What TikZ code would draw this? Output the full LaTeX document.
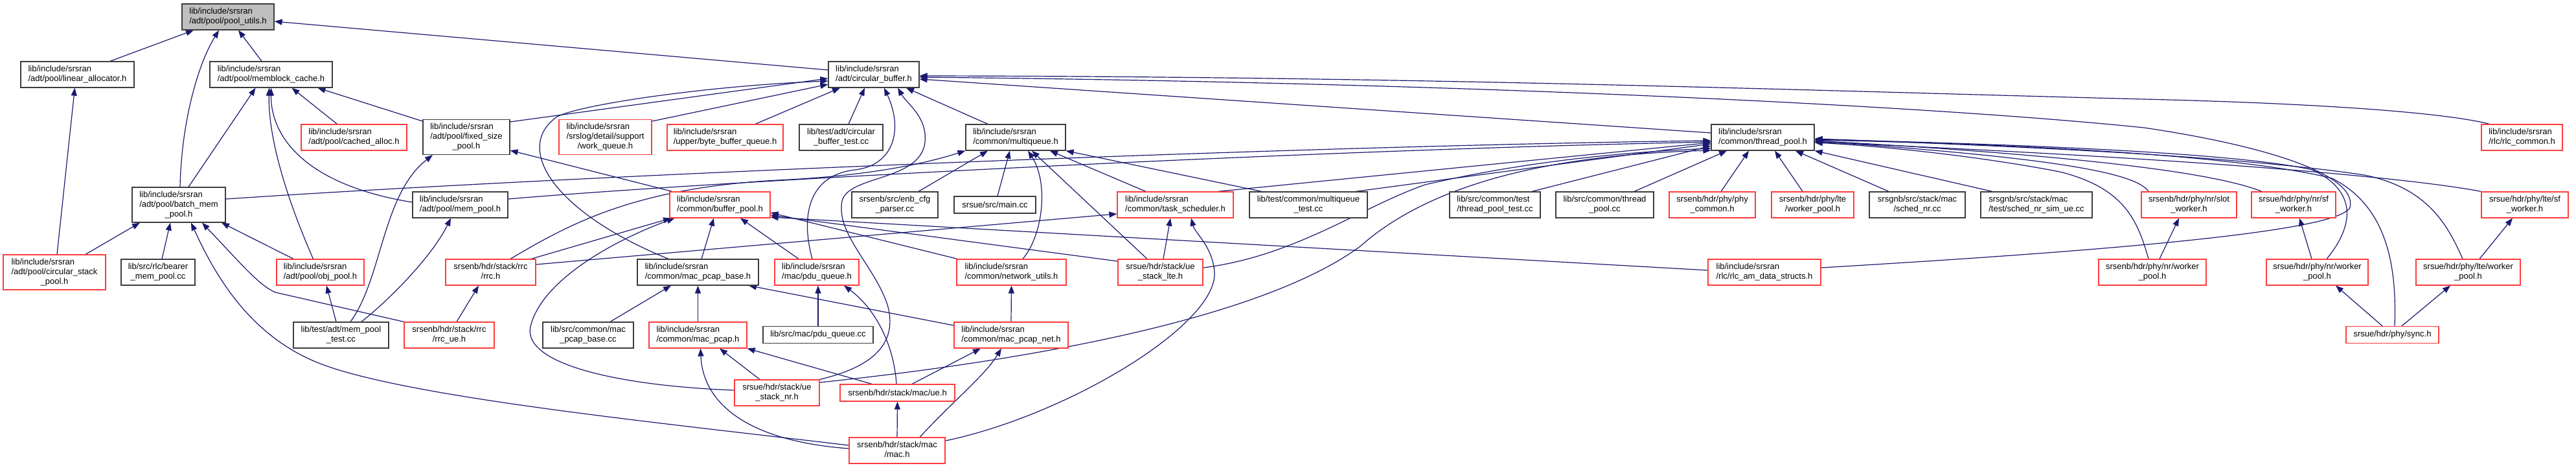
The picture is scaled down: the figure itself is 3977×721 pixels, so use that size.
\documentclass[tikz,border=0pt]{standalone}
\usepackage{fontspec}
\setmainfont{Liberation Sans}
\usetikzlibrary{arrows.meta}
\pgfdeclarelayer{back}
\pgfdeclarelayer{bg}
\pgfsetlayers{back,bg,main}
\definecolor{edgec}{RGB}{25,25,112}
\definecolor{redc}{RGB}{255,60,60}
\definecolor{blkc}{RGB}{60,60,60}
\definecolor{grayfill}{RGB}{191,191,191}
\newcommand\lbltwo[2]{\begin{tabular}{@{}l@{}}#1\\\multicolumn{1}{@{}c@{}}{#2}\end{tabular}}
\newcommand\lblthree[3]{\begin{tabular}{@{}l@{}}#1\\#2\\\multicolumn{1}{@{}c@{}}{#3}\end{tabular}}
\begin{document}
\begin{tikzpicture}[x=1pt,y=-1pt,
  box/.style={draw=blkc, line width=1.2pt, fill=white, rectangle, inner sep=0pt, font=\fontsize{13}{15}\selectfont},
  rbox/.style={box, draw=redc},
  hone/.style={minimum height=26pt},
  htwo/.style={minimum height=40pt},
  hthree/.style={minimum height=54pt},
  edge/.style={draw=edgec, line width=1.2pt, -{Triangle[length=12pt,width=9pt]}}]
\begin{pgfonlayer}{back}
\fill[white] (0,0) rectangle (3977,721);
\end{pgfonlayer}
\useasboundingbox (0,0) rectangle (3977,721);
% row 0
\node[box,fill=grayfill,htwo,minimum width=142pt] (A) at (352,26) {\lbltwo{lib/include/srsran}{/adt/pool/pool\_utils.h}};
% row 1
\node[box,htwo,minimum width=175pt] (B) at (119.5,115) {\lbltwo{lib/include/srsran}{/adt/pool/linear\_allocator.h}};
\node[box,htwo,minimum width=189pt] (C) at (418.5,115) {\lbltwo{lib/include/srsran}{/adt/pool/memblock\_cache.h}};
\node[box,htwo,minimum width=140pt] (D) at (1349,115) {\lbltwo{lib/include/srsran}{/adt/circular\_buffer.h}};
% row 2
\node[rbox,htwo,minimum width=163pt] (E) at (546.5,212) {\lbltwo{lib/include/srsran}{/adt/pool/cached\_alloc.h}};
\node[box,hthree,minimum width=134pt] (F) at (720,211.5) {\lblthree{lib/include/srsran}{/adt/pool/fixed\_size}{\_pool.h}};
\node[rbox,hthree,minimum width=143pt] (G) at (934.5,211.5) {\lblthree{lib/include/srsran}{/srslog/detail/support}{/work\_queue.h}};
\node[rbox,htwo,minimum width=179pt] (H) at (1119.5,212) {\lbltwo{lib/include/srsran}{/upper/byte\_buffer\_queue.h}};
\node[box,htwo,minimum width=129pt] (I) at (1298.5,212) {\lbltwo{lib/test/adt/circular}{\_buffer\_test.cc}};
\node[box,htwo,minimum width=154pt] (J) at (1568,212) {\lbltwo{lib/include/srsran}{/common/multiqueue.h}};
\node[box,htwo,minimum width=159pt] (K) at (2721.5,212) {\lbltwo{lib/include/srsran}{/common/thread\_pool.h}};
\node[rbox,htwo,minimum width=125pt] (L) at (3893.5,212) {\lbltwo{lib/include/srsran}{/rlc/rlc\_common.h}};
% row 3
\node[box,hthree,minimum width=144pt] (M) at (276,316) {\lblthree{lib/include/srsran}{/adt/pool/batch\_mem}{\_pool.h}};
\node[box,htwo,minimum width=147pt] (N) at (710.5,316) {\lbltwo{lib/include/srsran}{/adt/pool/mem\_pool.h}};
\node[rbox,htwo,minimum width=155pt] (O) at (1111.5,316) {\lbltwo{lib/include/srsran}{/common/buffer\_pool.h}};
\node[box,htwo,minimum width=133pt] (P) at (1381.5,316) {\lbltwo{srsenb/src/enb\_cfg}{\_parser.cc}};
\node[box,hone,minimum width=126pt] (Q) at (1536,316) {srsue/src/main.cc};
\node[rbox,htwo,minimum width=179pt] (R) at (1814.5,316) {\lbltwo{lib/include/srsran}{/common/task\_scheduler.h}};
\node[box,htwo,minimum width=182pt] (S) at (2020,316) {\lbltwo{lib/test/common/multiqueue}{\_test.cc}};
\node[box,htwo,minimum width=140pt] (T) at (2308,316) {\lbltwo{lib/src/common/test}{/thread\_pool\_test.cc}};
\node[box,htwo,minimum width=151pt] (U) at (2477.5,316) {\lbltwo{lib/src/common/thread}{\_pool.cc}};
\node[rbox,htwo,minimum width=133pt] (V) at (2643.5,316) {\lbltwo{srsenb/hdr/phy/phy}{\_common.h}};
\node[rbox,htwo,minimum width=127pt] (W) at (2798.5,316) {\lbltwo{srsenb/hdr/phy/lte}{/worker\_pool.h}};
\node[box,htwo,minimum width=148pt] (X) at (2960,316) {\lbltwo{srsgnb/src/stack/mac}{/sched\_nr.cc}};
\node[box,htwo,minimum width=172pt] (Y) at (3144,316) {\lbltwo{srsgnb/src/stack/mac}{/test/sched\_nr\_sim\_ue.cc}};
\node[rbox,htwo,minimum width=147pt] (Z) at (3379.5,316) {\lbltwo{srsenb/hdr/phy/nr/slot}{\_worker.h}};
\node[rbox,htwo,minimum width=130pt] (AA) at (3541,316) {\lbltwo{srsue/hdr/phy/nr/sf}{\_worker.h}};
\node[rbox,htwo,minimum width=134pt] (AB) at (3898,316) {\lbltwo{srsue/hdr/phy/lte/sf}{\_worker.h}};
% row 4
\node[rbox,hthree,minimum width=158pt] (AC) at (84,420) {\lblthree{lib/include/srsran}{/adt/pool/circular\_stack}{\_pool.h}};
\node[box,htwo,minimum width=114pt] (AD) at (244,420) {\lbltwo{lib/src/rlc/bearer}{\_mem\_pool.cc}};
\node[rbox,htwo,minimum width=135pt] (AE) at (494.5,420) {\lbltwo{lib/include/srsran}{/adt/pool/obj\_pool.h}};
\node[rbox,htwo,minimum width=139pt] (AF) at (757.5,420) {\lbltwo{srsenb/hdr/stack/rrc}{/rrc.h}};
\node[box,htwo,minimum width=187pt] (AG) at (1077.5,420) {\lbltwo{lib/include/srsran}{/common/mac\_pcap\_base.h}};
\node[rbox,htwo,minimum width=130pt] (AH) at (1261,420) {\lbltwo{lib/include/srsran}{/mac/pdu\_queue.h}};
\node[rbox,htwo,minimum width=169pt] (AI) at (1561.5,420) {\lbltwo{lib/include/srsran}{/common/network\_utils.h}};
\node[rbox,htwo,minimum width=131pt] (AJ) at (1791.5,420) {\lbltwo{srsue/hdr/stack/ue}{\_stack\_lte.h}};
\node[rbox,htwo,minimum width=174pt] (AK) at (2724,420) {\lbltwo{lib/include/srsran}{/rlc/rlc\_am\_data\_structs.h}};
\node[rbox,htwo,minimum width=166pt] (AL) at (3323,420) {\lbltwo{srsenb/hdr/phy/nr/worker}{\_pool.h}};
\node[rbox,htwo,minimum width=157pt] (AM) at (3577.5,420) {\lbltwo{srsue/hdr/phy/nr/worker}{\_pool.h}};
\node[rbox,htwo,minimum width=161pt] (AN) at (3810.5,420) {\lbltwo{srsue/hdr/phy/lte/worker}{\_pool.h}};
% row 5
\node[box,htwo,minimum width=147pt] (AO) at (526.5,517) {\lbltwo{lib/test/adt/mem\_pool}{\_test.cc}};
\node[rbox,htwo,minimum width=139pt] (AP) at (693.5,517) {\lbltwo{srsenb/hdr/stack/rrc}{/rrc\_ue.h}};
\node[box,htwo,minimum width=140pt] (AQ) at (908,517) {\lbltwo{lib/src/common/mac}{\_pcap\_base.cc}};
\node[rbox,htwo,minimum width=151pt] (AR) at (1077.5,517) {\lbltwo{lib/include/srsran}{/common/mac\_pcap.h}};
\node[box,hone,minimum width=170pt] (AS) at (1263,516.5) {lib/src/mac/pdu\_queue.cc};
\node[rbox,htwo,minimum width=176pt] (AT) at (1561,517) {\lbltwo{lib/include/srsran}{/common/mac\_pcap\_net.h}};
\node[rbox,hone,minimum width=143pt] (AU) at (3693.5,516.5) {srsue/hdr/phy/sync.h};
% row 6-7
\node[rbox,htwo,minimum width=131pt] (AV) at (1199.5,606) {\lbltwo{srsue/hdr/stack/ue}{\_stack\_nr.h}};
\node[rbox,hone,minimum width=177pt] (AW) at (1385.5,606) {srsenb/hdr/stack/mac/ue.h};
\node[rbox,htwo,minimum width=148pt] (AX) at (1385,695) {\lbltwo{srsenb/hdr/stack/mac}{/mac.h}};

\begin{pgfonlayer}{bg}
% into pool_utils
\draw[edge] ([xshift=50.5pt]B.north) -- ([xshift=-53pt]A.south);
\draw[edge] ([xshift=2pt]M.north) .. controls (280,190) and (305,100) .. ([xshift=-14pt]A.south);
\draw[edge] ([xshift=-14.5pt]C.north) -- ([xshift=16pt]A.south);
\draw[edge] ([yshift=7pt]D.west) -- ([yshift=-7pt]A.east);
% linear_allocator, memblock_cache
\draw[edge] ([xshift=4pt]AC.north) -- ([xshift=-4pt]B.south);
\draw[edge] ([xshift=15pt]M.north) -- ([xshift=-24pt]C.south);
\draw[edge] ([xshift=-26pt]E.north) -- ([xshift=32pt]C.south);
\draw[edge] ([yshift=24.5pt]F.west) -- ([xshift=72pt]C.south);
\draw[edge] ([yshift=4pt]N.west) .. controls (470,285) and (418,210) .. (C.south);
\draw[edge] ([xshift=-11pt]AE.north) .. controls (440,300) and (414,210) .. ([xshift=-3pt]C.south);
% batch_mem_pool
\draw[edge] ([xshift=48pt]AC.north) -- ([xshift=-60pt]M.south);
\draw[edge] ([xshift=6pt]AD.north) -- ([xshift=-13pt]M.south);
\draw[edge] ([yshift=8pt]AX.west) .. controls (1000,650) and (600,610) .. (480,555) .. controls (380,510) and (330,420) .. ([xshift=19pt]M.south);
\draw[edge] (AP.north west) -- (425,451) .. controls (400,440) and (375,410) .. ([xshift=36pt]M.south);
\draw[edge] ([xshift=-41.5pt]AE.north) -- ([xshift=66pt]M.south);
% mem_pool_test
\draw[edge] ([xshift=-7.5pt]AO.north) -- ([xshift=9.5pt]AE.south);
\draw[edge] ([xshift=14.5pt]AO.north) .. controls (590,430) and (590,300) .. ([xshift=-52pt]F.south);
\draw[edge] ([xshift=31.5pt]AO.north) .. controls (610,455) and (670,390) .. ([xshift=-14.5pt]N.south);
% fixed_size_pool, circular_buffer
\draw[edge] ([xshift=-73.5pt]O.north) -- ([yshift=-20.5pt]F.east);
\draw[edge] ([yshift=23.5pt]F.east) -- ([yshift=-6pt]D.west);
\draw[edge] ([yshift=24.5pt]G.east) -- ([yshift=-15pt]D.west);
\draw[edge] ([xshift=-45.5pt]AG.north) .. controls (860,330) and (790,230) .. (860,180) .. controls (900,160) and (1100,132) .. ([yshift=-10pt]D.west);
\draw[edge] ([xshift=46.5pt]H.north) -- ([xshift=-52pt]D.south);
\draw[edge] ([xshift=11.5pt]I.north) -- ([xshift=-14pt]D.south);
\draw[edge] ([xshift=-43pt]J.north) -- ([xshift=50pt]D.south);
\draw[edge] ([yshift=7pt]K.west) -- ([yshift=-7pt]D.east);
\draw[edge] ([xshift=-50pt]L.north) .. controls (3780,175) and (3600,160) .. (3310,153) .. controls (2800,140) and (2200,118) .. ([yshift=-2pt]D.east);
\draw[edge] ([yshift=7pt]AK.east) .. controls (3200,390) and (3610,360) .. (3628,320) .. controls (3640,270) and (3500,225) .. (3310,197) .. controls (3000,165) and (2300,128) .. ([yshift=-4pt]D.east);
\draw[edge] (AV.north east) .. controls (1330,570) and (1390,540) .. (1370,470) .. controls (1350,410) and (1290,360) .. (1300,310) .. controls (1310,270) and (1420,280) .. (1428,220) .. controls (1432,180) and (1400,160) .. ([xshift=37pt]D.south);
\draw[edge] ([xshift=-7pt]AH.north) .. controls (1235,330) and (1250,270) .. (1320,262) .. controls (1380,255) and (1395,200) .. ([xshift=16pt]D.south);
% thread_pool from left
\draw[edge] ([yshift=9pt]M.east) .. controls (900,270) and (2000,225) .. ([yshift=-5pt]K.west);
\draw[edge] ([yshift=9pt]N.east) .. controls (1100,280) and (2000,232) .. ([yshift=-7pt]K.west);
\draw[edge] ([xshift=65.5pt]R.north) -- ([yshift=-8pt]K.west);
\draw[edge] ([xshift=73pt]S.north) -- ([yshift=-10pt]K.west);
\draw[edge] ([yshift=7pt]AJ.east) .. controls (2000,395) and (2100,320) .. (2200,285) .. controls (2350,250) and (2500,235) .. ([yshift=-17pt]K.west);
\draw[edge] ([yshift=16pt]AV.east) .. controls (1600,555) and (1950,490) .. (2100,380) .. controls (2190,300) and (2350,240) .. ([yshift=-20pt]K.west);
\draw[edge] ([xshift=57pt]T.north) -- ([yshift=-13pt]K.west);
% thread_pool from below
\draw[edge] ([xshift=45.5pt]U.north) -- ([xshift=-55.5pt]K.south);
\draw[edge] ([xshift=13.5pt]V.north) -- ([xshift=-21.5pt]K.south);
\draw[edge] ([xshift=-15.5pt]W.north) -- ([xshift=18.5pt]K.south);
\draw[edge] ([xshift=-44pt]X.north) -- ([xshift=50.5pt]K.south);
\draw[edge] ([xshift=-68pt]Y.north) -- (K.south east);
% thread_pool from right
\draw[edge] ([xshift=-62.5pt]Z.north) .. controls (3300,270) and (3200,245) .. ([yshift=-6pt]K.east);
\draw[edge] ([xshift=-49pt]AA.north) .. controls (3440,275) and (3300,245) .. ([yshift=-5pt]K.east);
\draw[edge] (AB.north west) .. controls (3750,280) and (3500,250) .. ([yshift=-7pt]K.east);
\draw[edge] ([xshift=-6pt]AL.north) .. controls (3300,340) and (3280,290) .. (3180,265) .. controls (3050,240) and (2900,225) .. ([yshift=-8pt]K.east);
\draw[edge] ([xshift=14.5pt]AM.north) .. controls (3625,360) and (3650,300) .. (3570,262) .. controls (3450,235) and (3100,222) .. ([yshift=-3pt]K.east);
\draw[edge] ([xshift=3.5pt]AU.north) .. controls (3700,420) and (3690,320) .. (3600,275) .. controls (3450,238) and (3100,222) .. ([yshift=-4pt]K.east);
\draw[edge] ([xshift=-8.5pt]AN.north) .. controls (3780,350) and (3750,290) .. (3650,270) .. controls (3450,240) and (3100,225) .. ([yshift=-2pt]K.east);
% phy workers
\draw[edge] ([xshift=11pt]AL.north) -- ([xshift=-15.5pt]Z.south);
\draw[edge] ([xshift=-8.5pt]AM.north) -- ([xshift=9pt]AA.south);
\draw[edge] ([xshift=17.5pt]AN.north) -- ([xshift=-19pt]AB.south);
\draw[edge] ([xshift=-15.5pt]AU.north) -- ([xshift=28.5pt]AM.south);
\draw[edge] ([xshift=14.5pt]AU.north) -- ([xshift=-27.5pt]AN.south);
% multiqueue
\draw[edge] ([xshift=36.5pt]P.north) -- ([xshift=-43pt]J.south);
\draw[edge] ([xshift=4pt]Q.north) -- ([xshift=-9pt]J.south);
\draw[edge] ([xshift=17.5pt]AI.north) .. controls (1612,360) and (1618,280) .. ([xshift=19pt]J.south);
\draw[edge] ([xshift=-20.5pt]AJ.north) -- ([xshift=25pt]J.south);
\draw[edge] ([xshift=-45.5pt]R.north) -- ([xshift=53pt]J.south);
\draw[edge] ([xshift=-72pt]S.north) -- (J.south east);
\draw[edge] ([xshift=30.5pt]AF.north) .. controls (880,345) and (980,290) .. (1200,278) .. controls (1330,272) and (1420,255) .. (J.south west);
% buffer_pool
\draw[edge] ([xshift=62.5pt]AF.north) -- ([xshift=-75.5pt]O.south);
\draw[edge] ([yshift=4pt]AV.west) .. controls (950,595) and (800,560) .. (820,500) .. controls (840,430) and (950,370) .. ([xshift=-70pt]O.south);
\draw[edge] ([xshift=5.5pt]AG.north) -- ([xshift=-9.5pt]O.south);
\draw[edge] ([xshift=-28pt]AH.north) -- ([xshift=31.5pt]O.south);
\draw[edge] ([xshift=-83.5pt]AI.north) -- ([yshift=-12pt]O.east);
\draw[edge] ([yshift=17pt]AJ.west) -- ([yshift=-16pt]O.east);
\draw[edge] ([yshift=3pt]AK.west) -- ([yshift=-19pt]O.east);
% task_scheduler
\draw[edge] ([yshift=12pt]AF.east) -- ([yshift=-14pt]R.west);
\draw[edge] ([xshift=4.5pt]AJ.north) -- ([xshift=-7.5pt]R.south);
\draw[edge] ([yshift=15pt]AX.east) .. controls (1650,640) and (1880,500) .. (1875,420) .. controls (1872,380) and (1845,360) .. ([xshift=24.5pt]R.south);
% mac layer
\draw[edge] ([xshift=34pt]AQ.north) -- ([xshift=-41.5pt]AG.south);
\draw[edge] (AR.north) -- (AG.south);
\draw[edge] ([yshift=15pt]AT.west) -- ([xshift=78.5pt]AG.south);
\draw[edge] (AS.north) -- ([xshift=2pt]AH.south);
\draw[edge] ([xshift=-1.5pt]AW.north) .. controls (1380,530) and (1350,475) .. ([xshift=42pt]AH.south);
\draw[edge] ([xshift=-26.5pt]AV.north) -- ([xshift=33.5pt]AR.south);
\draw[edge] ([xshift=-39.5pt]AW.north) -- (AR.south east);
\draw[edge] ([yshift=3pt]AX.west) .. controls (1150,680) and (1085,620) .. ([xshift=4pt]AR.south);
\draw[edge] (AT.north) -- (AI.south);
\draw[edge] ([xshift=22.5pt]AW.north) -- ([xshift=-47pt]AT.south);
\draw[edge] ([xshift=35pt]AX.north) .. controls (1470,620) and (1520,580) .. ([xshift=-15pt]AT.south);
\draw[edge] (AX.north) -- (AW.south);
\draw[edge] ([xshift=11.5pt]AP.north) -- ([xshift=-18.5pt]AF.south);
\end{pgfonlayer}
\end{tikzpicture}
\end{document}
